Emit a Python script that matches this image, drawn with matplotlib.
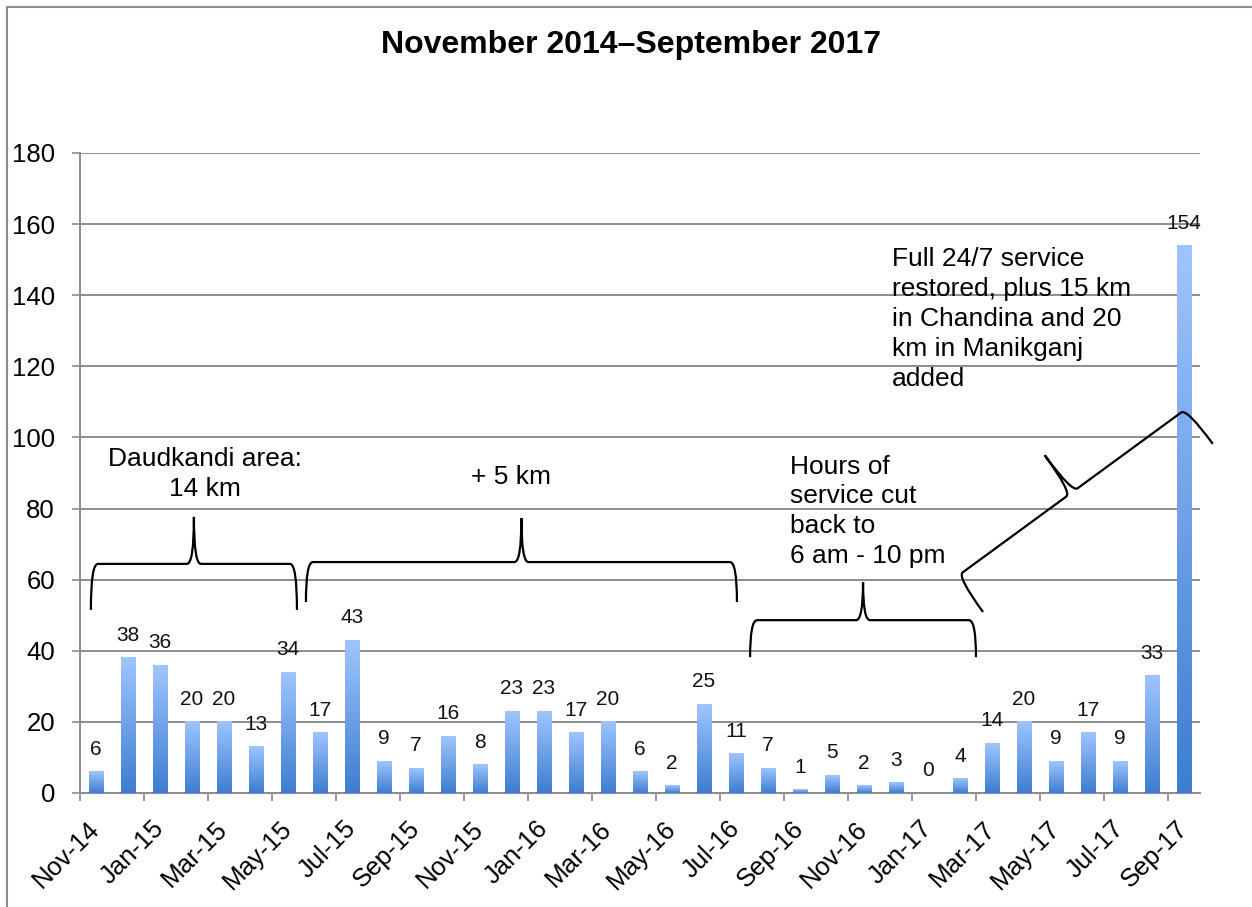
import numpy as np
import pandas as pd
import matplotlib
matplotlib.use('Agg')
import matplotlib.pyplot as plt
from matplotlib.colors import LinearSegmentedColormap
from matplotlib.path import Path
from matplotlib.patches import PathPatch, Rectangle
from matplotlib.transforms import IdentityTransform

plt.rcParams['font.family'] = ['Liberation Sans', 'DejaVu Sans']

# monthly counts, Nov 2014 .. Sep 2017
months = pd.date_range('2014-11-01', periods=35, freq='MS').strftime('%b-%y').tolist()
counts = [6, 38, 36, 20, 20, 13, 34, 17, 43, 9, 7, 16, 8, 23, 23, 17, 20, 6, 2, 25,
          11, 7, 1, 5, 2, 3, 0, 4, 14, 20, 9, 17, 9, 33, 154]

title = 'November 2014\u2013September 2017'

# notes over the bars: (text, x, y, alignment)
notes = [
    ('Daudkandi area:\n14 km', 3.41, 89.7, 'center'),
    ('+ 5 km', 12.97, 88.9, 'center'),
    ('Hours of\nservice cut\nback to\n6 am - 10 pm', 21.69, 79.2, 'left'),
    ('Full 24/7 service\nrestored, plus 15 km\nin Chandina and 20\nkm in Manikganj\nadded', 24.875, 133.3, 'left'),
]
# braces: tip a, tip b (data), depth and peak height in pixels
braces = [
    ((-0.16, 51.5), (6.28, 51.5), 46, 47),
    ((6.56, 53.7), (20.03, 53.7), 40, 44),
    ((20.44, 38.2), (27.5, 38.2), 37, 38),
    ((27.72, 50.9), (34.9, 98.2), 44, 46),
]

W, H = 1252, 907
fig = plt.figure(figsize=(W / 100, H / 100), dpi=100)
ax = fig.add_axes([80 / W, 1 - 793 / H, 1120 / W, 640 / H])

x = np.arange(len(counts))
bw = 0.44
cmap = LinearSegmentedColormap.from_list('barfade', ['#3d7dd0', '#a0c5fd'])
grad = np.linspace(0, 1, 256).reshape(-1, 1)
for xi, v in zip(x, counts):
    if v > 0:
        ax.imshow(grad, extent=(xi - bw / 2, xi + bw / 2, 0, v), origin='lower',
                  aspect='auto', cmap=cmap, zorder=3, interpolation='bilinear')
    ax.annotate(str(v), (xi, v), xytext=(0, 16), textcoords='offset points',
                ha='center', va='center', fontsize=15, color='#111111')

ax.set_xlim(-0.5, len(counts) - 0.5)
ax.set_ylim(0, 180)
ax.set_aspect('auto')

ax.set_yticks(np.arange(0, 181, 20))
ax.tick_params(axis='y', labelsize=18.5, length=6, width=1.2, color='#8c8c8c', pad=12)
ax.grid(axis='y', color='#8c8c8c', lw=1.4, zorder=0)
ax.set_axisbelow(True)

ax.set_xticks(np.arange(-0.5, len(counts) - 1, 2))
ax.set_xticklabels([])
ax.set_xticks(x[::2], minor=True)
ax.set_xticklabels(months[::2], minor=True)
ax.tick_params(axis='x', which='major', length=6, width=1.2, color='#8c8c8c', direction='out')
ax.tick_params(axis='x', which='minor', length=0, labelsize=18.5, pad=23)
for lab in ax.get_xticklabels(minor=True):
    lab.set_rotation(45)
    lab.set_ha('right')
    lab.set_va('center')
    lab.set_rotation_mode('anchor')

for s in ['top', 'right']:
    ax.spines[s].set_visible(False)
for s in ['left', 'bottom']:
    ax.spines[s].set_color('#8c8c8c')
    ax.spines[s].set_linewidth(1.4)

for txt, tx, ty, al in notes:
    ax.text(tx, ty, txt, ha=al, va='center', multialignment=al, fontsize=19,
            linespacing=1.31, zorder=5)


def draw_brace(a, b, depth, peak, r=7):
    pa, pb = ax.transData.transform([a, b])
    u = (pb - pa) / np.hypot(*(pb - pa))
    n = np.array([-u[1], u[0]])
    c = (pa + pb) / 2
    verts = [pa, pa + n * depth, pa + n * depth + u * r,
             c + n * depth - u * r,
             c + n * depth, c + n * (depth + peak),
             c + n * depth, c + n * depth + u * r,
             pb + n * depth - u * r,
             pb + n * depth, pb]
    codes = [Path.MOVETO, Path.CURVE3, Path.CURVE3, Path.LINETO,
             Path.CURVE3, Path.CURVE3, Path.CURVE3, Path.CURVE3,
             Path.LINETO, Path.CURVE3, Path.CURVE3]
    fig.add_artist(PathPatch(Path(verts, codes), transform=IdentityTransform(),
                             fill=False, edgecolor='black', lw=1.6, zorder=6))


for a, b, d, p in braces:
    draw_brace(a, b, d, p)

fig.text(631 / W, 1 - 45 / H, title, ha='center', va='center', fontsize=23,
         weight='bold')
fig.add_artist(Rectangle((7 / W, -0.05), 1.1, 1.05 - 7 / H, transform=fig.transFigure,
                         fill=False, edgecolor='#8c8c8c', lw=1.5))

fig.savefig('out.png', dpi=100)
